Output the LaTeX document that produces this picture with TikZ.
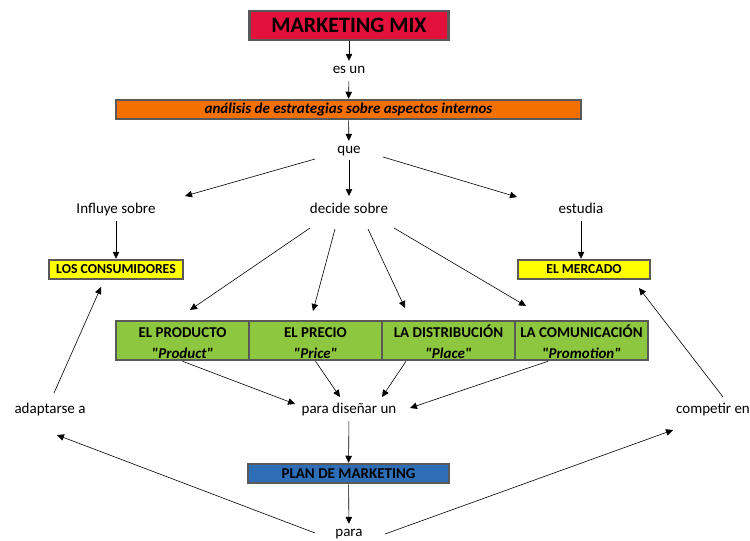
\documentclass[tikz,border=0pt]{standalone}
\usepackage{fontspec}
\setmainfont{Carlito}[Ligatures=TeXOff]
\usetikzlibrary{arrows.meta}
\definecolor{mixred}{RGB}{226,18,60}
\definecolor{mixorange}{RGB}{244,112,0}
\definecolor{mixyellow}{RGB}{255,255,0}
\definecolor{mixgreen}{RGB}{141,199,63}
\definecolor{mixblue}{RGB}{46,110,182}
\definecolor{boxgray}{RGB}{89,89,89}
\newcommand{\cellstrut}{\rule{0pt}{15pt}}
\tikzset{
    concept/.style={draw=boxgray, line width=2.5pt, inner sep=0pt, text=black,
        font=\bfseries\fontsize{13.7}{16}\selectfont},
    mixcell/.style={concept, fill=mixgreen, minimum width=133pt, minimum height=39pt,
        align=center, font=\bfseries\fontsize{15}{21}\selectfont},
    phrase/.style={inner sep=3pt, text height=9pt, text depth=5pt,
        font=\fontsize{15}{18}\selectfont},
    link/.style={draw=black, line width=0.6pt, -{Triangle[length=7pt,width=6.5pt]}},
}
\begin{document}
\begin{tikzpicture}[x=1pt, y=-1pt]
	\useasboundingbox (0,0) rectangle (750,541);
	% concepts
	\node[concept, fill=mixred, minimum width=199pt, minimum height=29pt,
		font=\bfseries\fontsize{22}{26}\selectfont] (mix) at (349,25.5) {MARKETING MIX};
	\node[concept, fill=mixorange, minimum width=465pt, minimum height=19pt,
		font=\bfseries\itshape\fontsize{15}{18}\selectfont] (analisis) at (348.5,109.5) {análisis de estrategias sobre aspectos internos};
	\node[concept, fill=mixyellow, minimum width=134pt, minimum height=19pt] (consum) at (116,269.5) {LOS CONSUMIDORES};
	\node[concept, fill=mixyellow, minimum width=132pt, minimum height=19pt] (mercado) at (584,269.5) {EL MERCADO};
	\node[mixcell] (prod) at (182.5,340.5) {\cellstrut EL PRODUCTO\\\textit{"Product"}};
	\node[mixcell] (precio) at (315.5,340.5) {\cellstrut EL PRECIO\\\textit{"Price"}};
	\node[mixcell] (dist) at (448.5,340.5) {\cellstrut LA DISTRIBUCIÓN\\\textit{"Place"}};
	\node[mixcell] (comun) at (581.5,340.5) {\cellstrut LA COMUNICACIÓN\\\textit{"Promotion"}};
	\node[concept, fill=mixblue, minimum width=201pt, minimum height=19pt,
		font=\bfseries\fontsize{15}{18}\selectfont] (plan) at (348.5,473.5) {PLAN DE MARKETING};
	% linking phrases
	\node[phrase] (esun) at (349,71) {es un};
	\node[phrase] (que) at (349,151) {que};
	\node[phrase] (influye) at (116,211) {Influye sobre};
	\node[phrase] (decide) at (349,211) {decide sobre};
	\node[phrase] (estudia) at (581,211) {estudia};
	\node[phrase] (disenar) at (349,411) {para diseñar un};
	\node[phrase] (adapt) at (50,411) {adaptarse a};
	\node[phrase] (compet) at (713,411) {competir en};
	\node[phrase] (para) at (349,534) {para};
	% links
	\draw[link] (mix) -- (esun);
	\draw[link] (esun) -- (analisis);
	\draw[link] (analisis) -- (que);
	\draw[link] ([xshift=-34pt,yshift=-8pt]que.center) -- ([xshift=69pt,yshift=15pt]influye.center);
	\draw[link] ([yshift=-9pt]que.center) -- ([yshift=15pt]decide.center);
	\draw[link] ([xshift=34pt,yshift=-6pt]que.center) -- ([xshift=-64pt,yshift=14pt]estudia.center);
	\draw[link] (influye) -- (consum);
	\draw[link] (estudia) -- (estudia |- mercado.north);
	\draw[link] ([xshift=-39pt,yshift=-17pt]decide.center) -- ([xshift=7.5pt,yshift=30.5pt]prod.center);
	\draw[link] ([xshift=-14pt,yshift=-18pt]decide.center) -- ([xshift=-2.5pt,yshift=29.5pt]precio.center);
	\draw[link] ([xshift=19pt,yshift=-18pt]decide.center) -- ([xshift=-43.5pt,yshift=32.5pt]dist.center);
	\draw[link] ([xshift=45pt,yshift=-17pt]decide.center) -- ([xshift=-55.5pt,yshift=34.5pt]comun.center);
	\draw[link] (prod.south) -- ([xshift=-54pt,yshift=7pt]disenar.center);
	\draw[link] (precio.south) -- ([xshift=-9pt,yshift=14pt]disenar.center);
	\draw[link] ([xshift=-42.5pt]dist.south) -- ([xshift=33pt,yshift=14pt]disenar.center);
	\draw[link] ([xshift=-33.5pt]comun.south) -- ([xshift=61pt,yshift=3pt]disenar.center);
	\draw[link] (disenar) -- (plan);
	\draw[link] (plan) -- (para);
	\draw[link] ([xshift=-34pt,yshift=1pt]para.center) -- ([xshift=7pt,yshift=-24pt]adapt.center);
	\draw[link] ([xshift=36pt]para.center) -- ([xshift=-40pt,yshift=-19pt]compet.center);
	\draw[link] ([xshift=4pt,yshift=18pt]adapt.center) -- ([xshift=-15pt,yshift=-17.5pt]consum.center);
	\draw[link] ([xshift=10pt,yshift=14pt]compet.center) -- ([xshift=55pt,yshift=-18.5pt]mercado.center);
\end{tikzpicture}
\end{document}
